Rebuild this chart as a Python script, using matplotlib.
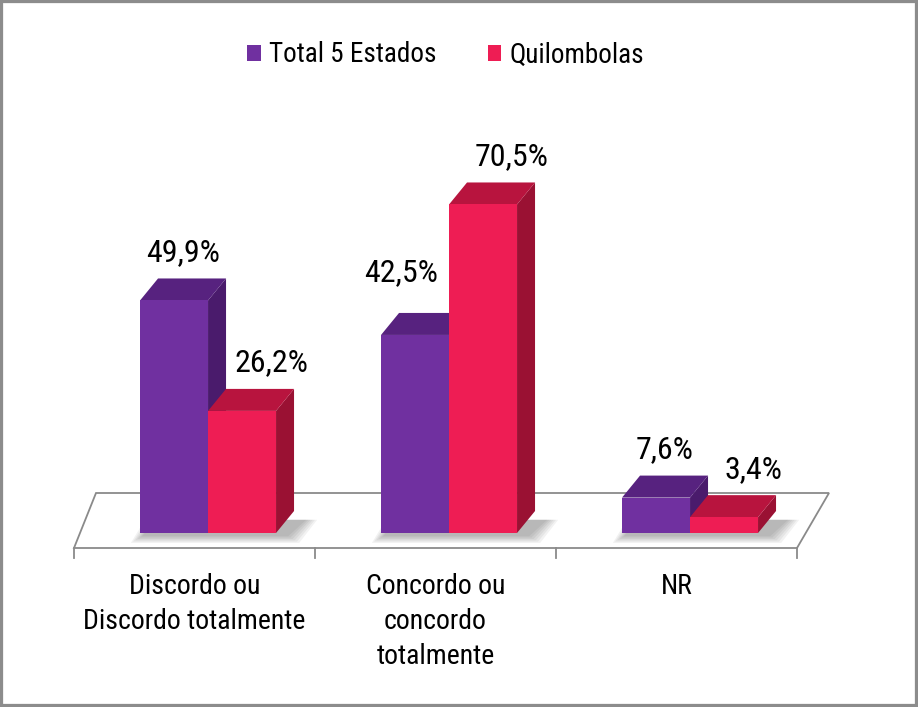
import matplotlib
matplotlib.use("Agg")
import matplotlib.pyplot as plt
from matplotlib.patches import Polygon, Rectangle, Patch

plt.rcParams['font.family'] = ['Liberation Sans Narrow', 'Roboto Condensed', 'Open Sans Condensed', 'DejaVu Sans']
plt.rcParams['font.stretch'] = 'condensed'

categories = ["Discordo ou\nDiscordo totalmente", "Concordo ou\nconcordo\ntotalmente", "NR"]
series = ["Total 5 Estados", "Quilombolas"]
total_5_estados = [49.9, 42.5, 7.6]
quilombolas = [26.2, 70.5, 3.4]
labels_total = ["49,9%", "42,5%", "7,6%"]
labels_quil = ["26,2%", "70,5%", "3,4%"]

# front, top, side colours for each series
purple = ["#7030A0", "#57227F", "#4A1B6C"]
red = ["#EE1D54", "#B8143E", "#9A1133"]

# scale: one category = 241 px, 1% = 4.66 px
PX = 1 / 241.0
PY = 1 / 4.66
W = 68 * PX          # bar width
DX, DY = 18 * PX, 22 * PY   # bar depth
OFF = -0.226         # left edge of the pair relative to category

fig = plt.figure(figsize=(9.18, 7.07), dpi=100)
ax = fig.add_axes([0, 0, 1, 1])
ax.set_xlim(-194.5 * PX, (918 - 194.5) * PX)
ax.set_ylim(-(707 - 533) * PY, 533 * PY)
ax.axis('off')

# floor
fy0, fy1 = -15 * PY, 40 * PY
floor = Polygon([(-0.5, fy0), (2.5, fy0), (2.5 + 32 * PX, fy1), (-0.5 + 22 * PX, fy1)],
                closed=True, facecolor='white', edgecolor='#8a8a8a', lw=1.3, zorder=1)
ax.add_patch(floor)
for t in [-0.5, 0.5, 1.5, 2.5]:
    ax.plot([t, t], [fy0, fy0 - 10 * PY], color='#8a8a8a', lw=1.3, zorder=1)


def bar3d(x, h, cols):
    front = Polygon([(x, 0), (x + W, 0), (x + W, h), (x, h)], closed=True,
                    facecolor=cols[0], edgecolor='none', zorder=3)
    top = Polygon([(x, h), (x + W, h), (x + W + DX, h + DY), (x + DX, h + DY)], closed=True,
                  facecolor=cols[1], edgecolor='none', zorder=3)
    side = Polygon([(x + W, 0), (x + W + DX, DY), (x + W + DX, h + DY), (x + W, h)], closed=True,
                   facecolor=cols[2], edgecolor='none', zorder=3)
    for p in (side, top, front):
        ax.add_patch(p)


for i in range(len(categories)):
    x0 = i + OFF
    # soft shadow on the floor
    for k in range(6):
        e = (k + 1) * 2.2
        sh = Polygon([(x0 - e * PX + 4 * PX, -(e * 0.6 + 2) * PY),
                      (x0 + 2 * W + (e + 10) * PX, -(e * 0.6 + 2) * PY),
                      (x0 + 2 * W + DX + (e + 10) * PX, DY * 0.6),
                      (x0 + DX - e * PX, DY * 0.6)],
                     closed=True, facecolor='#000000', alpha=0.05, edgecolor='none', zorder=2)
        ax.add_patch(sh)
    bar3d(x0, total_5_estados[i], purple)
    bar3d(x0 + W, quilombolas[i], red)
    # purple label moves left when the red neighbour is taller
    lx = x0 + W / 2 + DX / 2
    ly = total_5_estados[i] + DY + 26 * PY
    if quilombolas[i] > total_5_estados[i]:
        lx = x0 + W - 48 * PX
        ly = total_5_estados[i] + DY + 40 * PY
    ax.text(lx, ly, labels_total[i],
            ha='center', va='center', fontsize=23, color='black', zorder=5)
    ax.text(x0 + 1.5 * W + DX / 2 + 20 * PX, quilombolas[i] + DY + 26 * PY, labels_quil[i],
            ha='center', va='center', fontsize=23, color='black', zorder=5)
    ax.text(i, -40 * PY, categories[i], ha='center', va='top', fontsize=20,
            linespacing=1.38, color='black')

handles = [Patch(facecolor=purple[0], edgecolor='none'), Patch(facecolor=red[0], edgecolor='none')]
fig.legend(handles, series, loc='center', bbox_to_anchor=(445.5 / 918, 1 - 55 / 707.0),
           ncol=2, frameon=False, fontsize=19.5, handlelength=0.5, handleheight=0.55,
           handletextpad=0.3, columnspacing=1.9)

fig.patches.append(Rectangle((0, 0), 1, 1, transform=fig.transFigure, fill=False,
                             edgecolor='#8c8c8c', lw=4.5, zorder=10))

fig.savefig("out.png", dpi=100)
